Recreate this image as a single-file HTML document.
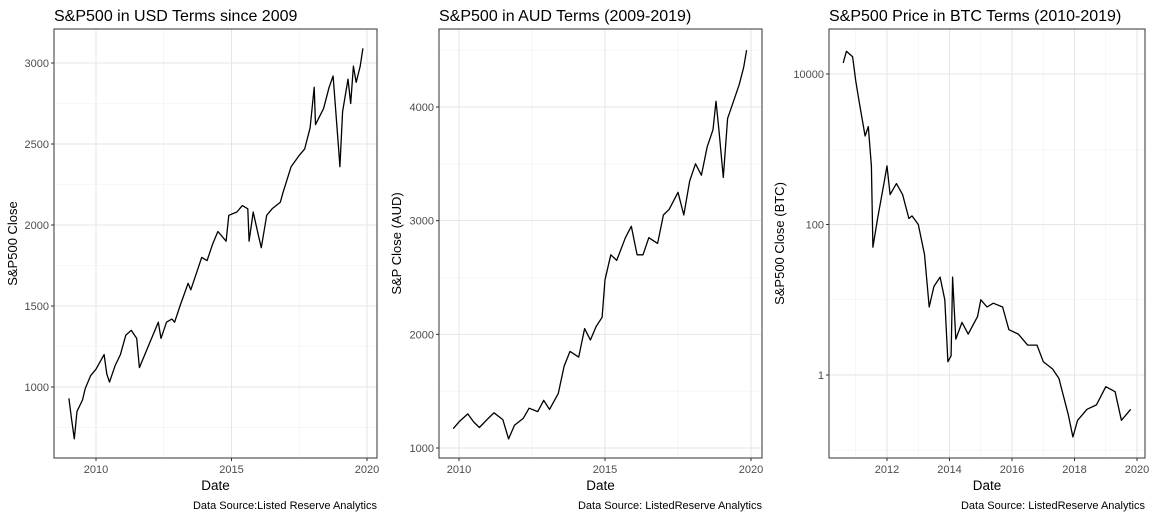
<!DOCTYPE html>
<html><head><meta charset="utf-8"><style>
body{margin:0;background:#fff;width:1152px;height:518px;overflow:hidden}
svg{font-family:"Liberation Sans",sans-serif}
</style></head><body>
<svg id="c" width="1152" height="518"></svg>
<script>
const usdYears=[2009.0,2009.1,2009.2,2009.3,2009.5,2009.6,2009.8,2010.0,2010.3,2010.4,2010.5,2010.7,2010.9,2011.1,2011.3,2011.5,2011.6,2011.8,2012.0,2012.3,2012.4,2012.6,2012.8,2012.9,2013.1,2013.4,2013.5,2013.7,2013.9,2014.1,2014.3,2014.5,2014.8,2014.9,2015.2,2015.4,2015.6,2015.65,2015.8,2016.0,2016.1,2016.3,2016.5,2016.8,2016.9,2017.2,2017.5,2017.7,2017.9,2018.05,2018.1,2018.4,2018.6,2018.75,2018.85,2018.95,2019.0,2019.1,2019.3,2019.4,2019.5,2019.6,2019.75,2019.85];
const usdValues=[930,800,680,850,920,990,1070,1110,1200,1080,1030,1130,1200,1320,1350,1300,1120,1200,1280,1400,1300,1400,1420,1400,1500,1640,1600,1700,1800,1780,1880,1960,1900,2060,2080,2120,2100,1900,2080,1930,1860,2060,2100,2140,2200,2360,2430,2470,2600,2850,2620,2720,2850,2920,2700,2480,2360,2700,2900,2750,2980,2880,2980,3090];
const audYears=[2009.8,2010.0,2010.3,2010.5,2010.7,2011.0,2011.2,2011.5,2011.7,2011.9,2012.2,2012.4,2012.7,2012.9,2013.1,2013.4,2013.6,2013.8,2014.1,2014.3,2014.5,2014.7,2014.9,2015.0,2015.2,2015.4,2015.7,2015.9,2016.1,2016.3,2016.5,2016.8,2017.0,2017.2,2017.5,2017.7,2017.9,2018.1,2018.3,2018.5,2018.7,2018.8,2018.9,2019.05,2019.2,2019.4,2019.6,2019.75,2019.85];
const audValues=[1170,1230,1300,1230,1180,1260,1310,1250,1080,1200,1260,1350,1320,1420,1340,1480,1720,1850,1800,2050,1950,2070,2150,2480,2700,2650,2850,2950,2700,2700,2850,2800,3050,3100,3250,3050,3350,3500,3400,3650,3800,4050,3800,3380,3900,4050,4200,4350,4500];
const btcYears=[2010.6,2010.7,2010.9,2011.0,2011.1,2011.3,2011.4,2011.5,2011.55,2011.7,2011.9,2012.0,2012.1,2012.3,2012.5,2012.7,2012.8,2013.0,2013.2,2013.35,2013.5,2013.7,2013.85,2013.95,2014.05,2014.1,2014.2,2014.4,2014.6,2014.9,2015.0,2015.2,2015.4,2015.7,2015.9,2016.2,2016.5,2016.8,2017.0,2017.3,2017.5,2017.8,2017.95,2018.1,2018.4,2018.7,2019.0,2019.3,2019.5,2019.8];
const btcValues=[14000,20000,17000,8000,4500,1500,2000,600,50,120,350,600,250,350,250,120,130,100,40,8,15,20,10,1.5,1.8,20,3,5,3.5,6,10,8,9,8,4,3.5,2.5,2.5,1.5,1.2,0.9,0.3,0.15,0.25,0.35,0.4,0.7,0.6,0.25,0.35];
const usdYTicks=[1000,1500,2000,2500,3000], audYTicks=[1000,2000,3000,4000], btcYTicks=[1,100,10000];
const usdXTicks=[2010,2015,2020], audXTicks=[2010,2015,2020], btcXTicks=[2012,2014,2016,2018,2020];
const NS="http://www.w3.org/2000/svg", svg=document.getElementById('c');
function el(t,a,p){const e=document.createElementNS(NS,t);for(const k in a)e.setAttribute(k,a[k]);(p||svg).appendChild(e);return e;}
function txt(s,a,p){const e=el('text',a,p);e.textContent=s;return e;}
function panel(o){
  const g=el('g',{});
  
  
  const X=o.x, Y=o.y;
  o.xMinor.forEach(v=>el('line',{x1:X(v),x2:X(v),y1:o.t,y2:o.b,stroke:'#f0f0f0','stroke-width':0.6},g));
  o.yMinor.forEach(v=>el('line',{x1:o.l,x2:o.r,y1:Y(v),y2:Y(v),stroke:'#f0f0f0','stroke-width':0.6},g));
  o.xt.forEach(v=>{el('line',{x1:X(v),x2:X(v),y1:o.t,y2:o.b,stroke:'#e6e6e6','stroke-width':1},g);
    el('line',{x1:X(v),x2:X(v),y1:o.b,y2:o.b+3,stroke:'#333'},g);
    const t=txt(String(v),{x:X(v),y:o.b+15,'text-anchor':'middle','font-size':11,fill:'#4d4d4d'},g);
    });
  o.yt.forEach(v=>{el('line',{x1:o.l,x2:o.r,y1:Y(v),y2:Y(v),stroke:'#e6e6e6','stroke-width':1},g);
    el('line',{x1:o.l-3,x2:o.l,y1:Y(v),y2:Y(v),stroke:'#333'},g);
    const t=txt(String(v),{x:o.l-5,y:Y(v)+4,'text-anchor':'end','font-size':11,fill:'#4d4d4d'},g);
    });
  const d=o.xs.map((v,i)=>(i?'L':'M')+X(v).toFixed(1)+','+Y(o.ys[i]).toFixed(1)).join('');
  const p=el('path',{d:d,fill:'none',stroke:'#000','stroke-width':1.3,'stroke-linejoin':'round'},g);
  
  el('rect',{x:o.l,y:o.t,width:o.r-o.l,height:o.b-o.t,fill:'none',stroke:'#333','stroke-width':1},g);
  const ti=txt(o.title,{x:o.l,y:21,'font-size':16,fill:'#000'},g);
  
  const xa=txt('Date',{x:(o.l+o.r)/2,y:490,'text-anchor':'middle','font-size':13.5,fill:'#000'},g);
  
  const cy=(o.t+o.b)/2, cx=o.ytx;
  const ya=txt(o.ylab,{x:cx,y:cy,'text-anchor':'middle','font-size':13,fill:'#000',transform:`rotate(-90 ${cx} ${cy})`},g);
  
  const cap=txt(o.cap,{x:o.r,y:509,'text-anchor':'end','font-size':11,fill:'#000'},g);
  
}
const lin=(d0,d1,p0,p1)=>v=>p0+(v-d0)*(p1-p0)/(d1-d0);
panel({name:'usd-panel',l:54,r:377,t:29,b:458,x:lin(2010,2020,96,367),y:lin(1000,3000,387,63),
  xt:usdXTicks,yt:usdYTicks,xMinor:[2012.5,2017.5],yMinor:[750,1250,1750,2250,2750],xs:usdYears,ys:usdValues,
  title:'S&P500 in USD Terms since 2009',ylab:'S&P500 Close',ytx:17,cap:'Data Source:Listed Reserve Analytics'});
panel({name:'aud-panel',l:439,r:762,t:29,b:458,x:lin(2010,2020,459,751),y:lin(1000,4000,448,107),
  xt:audXTicks,yt:audYTicks,xMinor:[2012.5,2017.5],yMinor:[1500,2500,3500,4500],xs:audYears,ys:audValues,
  title:'S&P500 in AUD Terms (2009-2019)',ylab:'S&P Close (AUD)',ytx:401,cap:'Data Source: ListedReserve Analytics'});
const ly=lin(0,4,375,74);
panel({name:'btc-panel',l:829,r:1145,t:29,b:458,x:lin(2012,2020,887,1137),y:v=>ly(Math.log10(v)),
  xt:btcXTicks,yt:btcYTicks,xMinor:[2011,2013,2015,2017,2019],yMinor:[0.1,10,1000],xs:btcYears,ys:btcValues,
  title:'S&P500 Price in BTC Terms (2010-2019)',ylab:'S&P500 Close (BTC)',ytx:784,cap:'Data Source: ListedReserve Analytics'});
</script>
</body></html>
